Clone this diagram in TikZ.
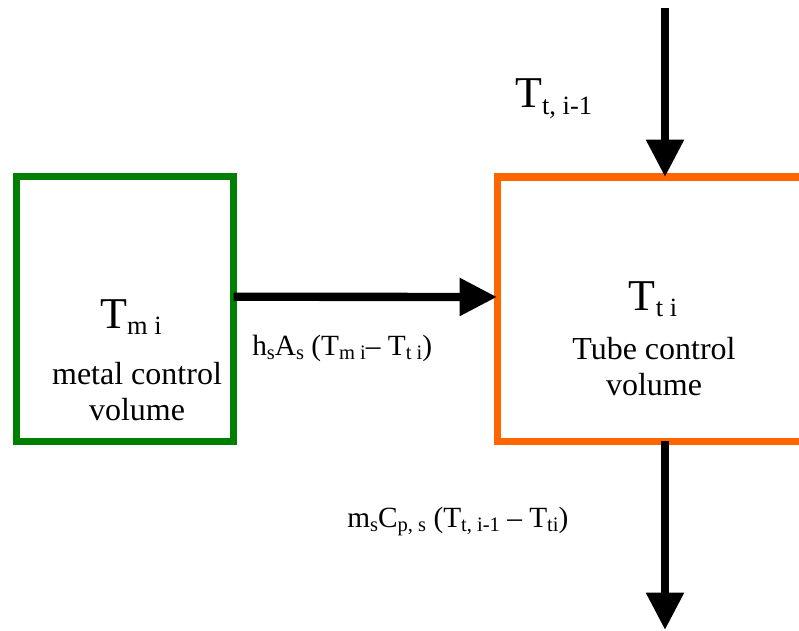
\documentclass[tikz,border=0pt]{standalone}
\usepackage{fontspec}
\setmainfont{Liberation Serif}
\usepackage{graphicx}
\usetikzlibrary{arrows.meta}
\definecolor{metalGreen}{RGB}{0,128,0}
\definecolor{tubeOrange}{RGB}{255,102,0}
\newcommand{\dn}[2][0.6]{\raisebox{-0.3ex}{\scalebox{#1}{#2}}}
\begin{document}
\begin{tikzpicture}[x=0.75pt,y=-0.75pt,
    cvBox/.style={draw,line width=5.25pt,inner sep=0pt,outer sep=0pt},
    flowArr/.style={-{Triangle[width=27pt,length=28pt]},line width=6.25pt},
    symBig/.style={font=\fontsize{33pt}{40pt}\selectfont,inner sep=0pt},
    cvText/.style={font=\fontsize{24pt}{27pt}\selectfont,align=center,inner sep=0pt},
    fluxText/.style={font=\fontsize{22pt}{26pt}\selectfont,inner sep=0pt},
]
\useasboundingbox (0,0) rectangle (799,631);
\clip (0,0) rectangle (799,631);
% control volumes
\node[cvBox,draw=metalGreen,minimum width=162.75pt,minimum height=198.4pt] (metal) at (125,308.75) {};
\node[cvBox,draw=tubeOrange,minimum width=252pt,minimum height=198pt] (tube) at (665,309) {};
\coordinate (tubeIn) at (665,8);
\coordinate (tubeOut) at (665,630);
% flows
\draw[flowArr] (tubeIn) -- (tube.north);
\draw[flowArr] ([yshift=9pt]metal.east) -- ([yshift=9pt]tube.west);
\draw[flowArr] (tube.south) -- (tubeOut);
% labels
\node[symBig,anchor=base west] (tInLbl) at (515,108) {T\dn{t, i-1}};
\node[symBig,anchor=base west] (tmLbl) at (100,328) {T\dn{m i}};
\node[cvText,anchor=base] (metalTxt) at (137,420) {metal control\\volume};
\node[symBig,anchor=base] (ttLbl) at (653,310) {T\dn{t i}};
\node[cvText,anchor=base] (tubeTxt) at (654,395) {Tube control\\volume};
\node[fluxText,anchor=base west] (convLbl) at (252,355) {h\dn[0.7]{s}A\dn[0.7]{s} (T\dn[0.7]{m i}– T\dn[0.7]{t i})};
\node[fluxText,anchor=base west] (enthLbl) at (347,527) {m\dn[0.7]{s}C\dn[0.7]{p, s} (T\dn[0.7]{t, i-1} – T\dn[0.7]{ti})};
\end{tikzpicture}
\end{document}
